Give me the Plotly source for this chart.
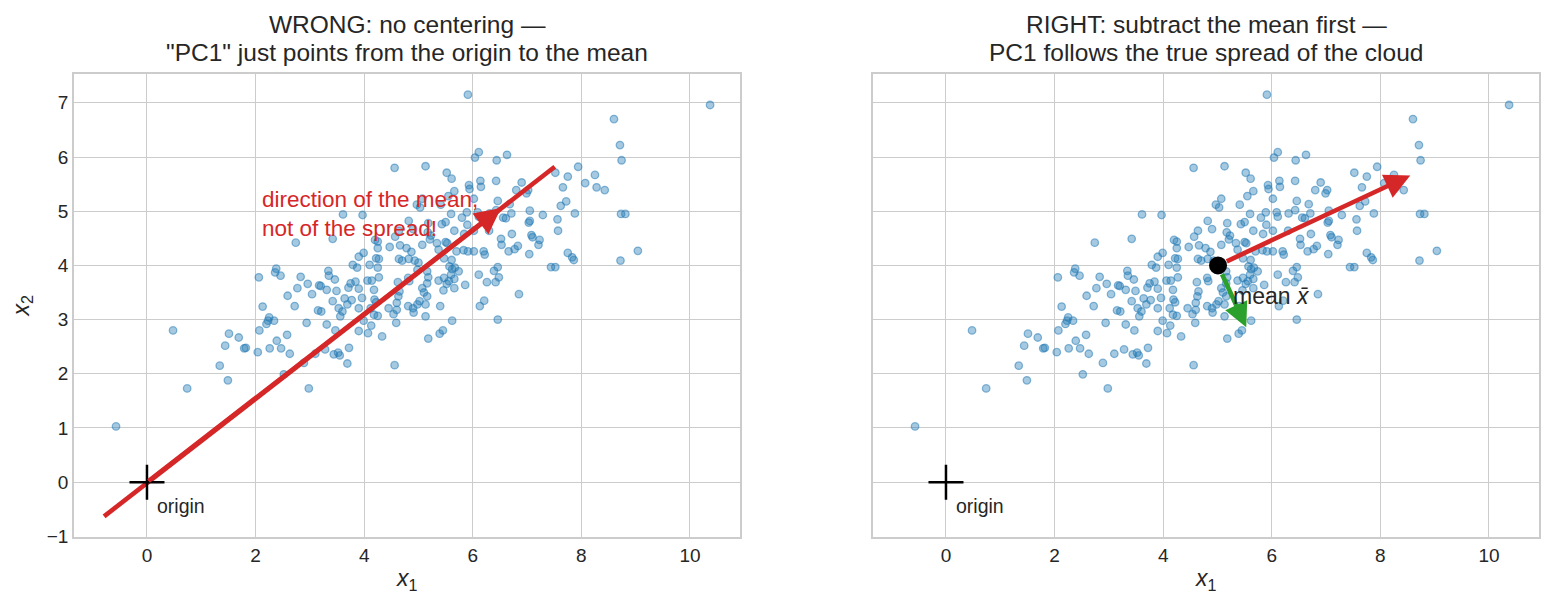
import plotly.graph_objects as go

# ---- data ----
X1 = [8.71, 8.74, 6.11, 6.04, 6.44, 6.63, 4.56, 5.13, 7.94, 7.52, 7.75, 8.25, 8.07, 8.28, 8.43,
      5.52, 5.61, 6.14, 6.15, 5.93, 5.94, 6.43, 5.66, 5.55, 6.90, 6.80, 7.02, 6.99, 7.66, 6.02,
      5.07, 4.97, 5.03, 5.41, 6.46, 6.68, 7.72, 7.62, 3.61, 3.97, 5.60, 5.80, 5.89, 6.09, 6.11,
      6.31, 6.43, 6.56, 6.61, 6.71, 7.05, 7.29, 7.88, 8.73, 8.81, 7.56, 7.05, 7.03, 7.57, 4.82,
      5.18, 5.43, 5.50, 4.90, 4.64, 4.57, 5.17, 5.23, 5.90, 6.02, 5.66, 5.84, 6.30, 6.72, 7.08,
      7.10, 7.23, 6.52, 6.53, 6.83, 6.77, 6.66, 7.04, 7.21, 2.74, 3.42, 4.20, 4.25, 4.25, 4.47,
      4.66, 4.78, 4.87, 5.07, 5.21, 5.34, 5.50, 5.53, 5.37, 5.70, 5.83, 5.91, 6.02, 6.20, 6.22,
      7.75, 7.83, 7.86, 9.04, 8.72, 3.99, 3.90, 3.79, 3.87, 4.10, 4.22, 4.27, 4.25, 4.64, 4.70,
      4.82, 4.93, 5.47, 5.61, 5.57, 5.62, 5.67, 5.74, 5.60, 5.66, 5.56, 5.52, 5.47, 5.37, 7.44,
      7.52, 6.46, 6.39, 6.48, 6.42, 6.26, 6.11, 5.86, 5.66, 5.46, 2.06, 2.38, 2.36, 2.46, 2.83,
      3.34, 3.35, 3.46, 3.75, 3.84, 3.71, 3.90, 4.06, 4.14, 4.27, 4.18, 4.62, 4.81, 4.83, 5.07,
      4.65, 2.77, 2.96, 3.17, 3.20, 3.04, 3.31, 3.49, 2.59, 3.42, 3.64, 3.77, 3.96, 4.19, 4.22,
      2.13, 2.72, 3.15, 3.21, 3.53, 3.60, 3.56, 3.69, 3.90, 4.12, 4.18, 4.25, 4.45, 4.54, 4.60,
      4.60, 4.81, 4.90, 4.98, 5.02, 5.13, 5.16, 4.91, 5.13, 5.40, 6.13, 6.21, 6.85, 6.46, 5.62,
      2.25, 2.23, 2.20, 2.34, 2.07, 1.82, 2.04, 2.26, 2.39, 2.47, 2.58, 2.63, 2.94, 3.31, 3.47,
      3.10, 3.28, 3.44, 3.52, 3.55, 3.72, 3.69, 2.89, 2.52, 2.98, 3.90, 4.07, 4.13, 3.99, 4.33,
      4.59, 4.56, 5.18, 5.39, 5.45, 4.63, 0.48, 0.74, -0.57, 1.34, 1.49, 1.44, 1.51, 1.69, 1.79,
      5.91, 10.37, 8.60, 5.16, 5.18, 5.16, 5.10, 5.00, 4.98]
X2 = [6.22, 5.94, 6.09, 5.99, 5.94, 6.04, 5.80, 5.83, 5.82, 5.71, 5.64, 5.67, 5.52, 5.44, 5.39,
      5.71, 5.60, 5.56, 5.45, 5.48, 5.41, 5.56, 5.37, 5.28, 5.53, 5.39, 5.39, 5.33, 5.44, 5.23,
      5.23, 5.12, 5.07, 5.12, 5.19, 5.13, 5.18, 5.10, 4.94, 4.93, 4.95, 4.88, 4.98, 4.98, 4.90,
      4.96, 5.02, 4.88, 4.87, 4.96, 5.01, 4.93, 4.96, 4.95, 4.95, 4.85, 4.82, 4.79, 4.64, 4.82,
      4.78, 4.76, 4.80, 4.67, 4.64, 4.53, 4.61, 4.55, 4.75, 4.64, 4.64, 4.58, 4.64, 4.58, 4.56,
      4.52, 4.47, 4.49, 4.38, 4.36, 4.30, 4.26, 4.21, 4.38, 4.42, 4.49, 4.47, 4.44, 4.32, 4.34,
      4.37, 4.32, 4.25, 4.38, 4.48, 4.41, 4.43, 4.41, 4.29, 4.26, 4.28, 4.26, 4.26, 4.26, 4.20,
      4.23, 4.15, 4.10, 4.27, 4.09, 4.23, 4.16, 4.01, 3.96, 4.01, 4.13, 4.12, 3.96, 4.12, 4.09,
      4.12, 4.09, 4.13, 4.10, 3.98, 3.93, 3.96, 3.89, 3.83, 3.75, 3.71, 3.66, 3.77, 3.72, 3.97,
      3.97, 3.97, 3.90, 3.78, 3.69, 3.69, 3.83, 3.64, 3.58, 3.54, 3.78, 3.94, 3.87, 3.81, 3.79,
      3.90, 3.81, 3.74, 3.67, 3.70, 3.59, 3.57, 3.72, 3.72, 3.78, 3.55, 3.69, 3.77, 3.71, 3.58,
      3.52, 3.58, 3.66, 3.63, 3.62, 3.47, 3.55, 3.53, 3.44, 3.34, 3.39, 3.36, 3.40, 3.37, 3.32,
      3.24, 3.25, 3.17, 3.15, 3.21, 3.15, 3.06, 3.28, 3.21, 3.21, 3.09, 3.07, 3.21, 3.10, 3.18,
      3.31, 3.25, 3.21, 3.28, 3.34, 3.28, 3.43, 3.13, 3.06, 3.25, 3.25, 3.35, 3.47, 3.00, 2.98,
      3.04, 2.98, 2.92, 2.98, 2.80, 2.48, 2.40, 2.47, 2.61, 2.47, 2.72, 2.37, 2.94, 2.91, 2.80,
      2.37, 2.45, 2.36, 2.39, 2.34, 2.48, 2.19, 2.20, 1.99, 1.73, 2.79, 2.75, 2.89, 2.98, 2.69,
      2.94, 2.16, 2.65, 2.74, 2.80, 3.43, 2.80, 1.73, 1.03, 2.15, 1.88, 2.52, 2.74, 2.67, 2.47,
      7.15, 6.96, 6.70, 3.89, 3.78, 3.67, 3.50, 4.05, 3.92]

ORIGIN = [0.0, 0.0]
MEAN = [5.01, 4.00]                 # sample mean (black dot)
PC1_TIP = [8.55, 5.66]              # centred PC1 arrow tip
PC2_TIP = [5.53, 2.86]              # centred PC2 arrow tip
UNC_LINE_X = [-0.79, 7.51]          # uncentred "PC1" line
UNC_LINE_Y = [-0.63, 5.82]
UNC_ARROW_TIP = [6.52, 5.06]

XTICKS = [0, 2, 4, 6, 8, 10]
YTICKS = [-1, 0, 1, 2, 3, 4, 5, 6, 7]
XRANGE = [-1.344, 10.921]
YRANGE = [-1.013, 7.534]

TITLES = [["WRONG: no centering \u2014", "\"PC1\" just points from the origin to the mean"],
          ["RIGHT: subtract the mean first \u2014", "PC1 follows the true spread of the cloud"]]

BLUE_FILL = "rgba(31,119,180,0.40)"
BLUE_EDGE = "rgba(31,119,180,0.50)"
RED = "#d62728"
GREEN = "#2ca02c"
TXT = "#262626"
GRID = "#cccccc"
FONT = "Liberation Sans"

W, H = 1553, 607
HE = 598.0   # effective rendered height used for vertical placement


def fy(p):
    """paper fraction for a pixel row p measured from the top"""
    return 1 - p / HE


fig = go.Figure()

for xa, ya in [("x", "y"), ("x2", "y2")]:
    fig.add_trace(go.Scatter(x=X1, y=X2, mode="markers", xaxis=xa, yaxis=ya,
                             marker=dict(size=7.5, color=BLUE_FILL,
                                         line=dict(color=BLUE_EDGE, width=1.3)),
                             hoverinfo="skip", showlegend=False))

# uncentred line (left)
fig.add_trace(go.Scatter(x=UNC_LINE_X, y=UNC_LINE_Y, mode="lines", xaxis="x", yaxis="y",
                         line=dict(color=RED, width=4.6), showlegend=False, hoverinfo="skip"))

# origin crosses
for xa, ya in [("x", "y"), ("x2", "y2")]:
    fig.add_trace(go.Scatter(x=[ORIGIN[0]], y=[ORIGIN[1]], mode="markers", xaxis=xa, yaxis=ya,
                             marker=dict(symbol="cross-thin", size=25,
                                         line=dict(color="black", width=2.5)),
                             showlegend=False, hoverinfo="skip"))

# mean dot (right)
fig.add_trace(go.Scatter(x=[MEAN[0]], y=[MEAN[1]], mode="markers", xaxis="x2", yaxis="y2",
                         marker=dict(size=18, color="black"), showlegend=False, hoverinfo="skip"))

annotations = []
# arrows
annotations.append(dict(x=UNC_ARROW_TIP[0], y=UNC_ARROW_TIP[1], ax=ORIGIN[0], ay=ORIGIN[1],
                        xref="x", yref="y", axref="x", ayref="y", text="", showarrow=True,
                        arrowhead=2, arrowsize=1.13, arrowwidth=4.6, arrowcolor=RED, standoff=0))
annotations.append(dict(x=PC1_TIP[0], y=PC1_TIP[1], ax=MEAN[0], ay=MEAN[1],
                        xref="x2", yref="y2", axref="x2", ayref="y2", text="", showarrow=True,
                        arrowhead=2, arrowsize=1.1, arrowwidth=4.6, arrowcolor=RED,
                        standoff=0, startstandoff=8))
annotations.append(dict(x=PC2_TIP[0], y=PC2_TIP[1], ax=MEAN[0], ay=MEAN[1],
                        xref="x2", yref="y2", axref="x2", ayref="y2", text="", showarrow=True,
                        arrowhead=2, arrowsize=1.05, arrowwidth=4.6, arrowcolor=GREEN,
                        standoff=0, startstandoff=8))

# text labels in data coords
annotations.append(dict(x=2.08, y=4.95, xref="x", yref="y", xanchor="left", yanchor="middle",
                        align="left", showarrow=False,
                        text="direction of the mean,<br>not of the spread!",
                        font=dict(family=FONT, size=22.5, color=RED)))
for xr, yr in [("x", "y"), ("x2", "y2")]:
    annotations.append(dict(x=0.14, y=-0.44, xref=xr, yref=yr, xanchor="left", yanchor="middle",
                            showarrow=False, text="origin",
                            font=dict(family=FONT, size=19.5, color=TXT)))
annotations.append(dict(x=5.25, y=3.43, xref="x2", yref="y2", xanchor="left", yanchor="middle",
                        showarrow=False, text="mean <i>x\u0304</i>",
                        font=dict(family=FONT, size=23, color=TXT)))

# titles and axis labels (paper coords)
centers = [(74 + 740) / 2 / W, (873 + 1539) / 2 / W]
for c, (l1, l2) in zip(centers, TITLES):
    annotations.append(dict(x=c, y=fy(25), xref="paper", yref="paper", xanchor="center",
                            yanchor="middle", showarrow=False, text=l1,
                            font=dict(family=FONT, size=24.5, color=TXT)))
    annotations.append(dict(x=c, y=fy(53), xref="paper", yref="paper", xanchor="center",
                            yanchor="middle", showarrow=False, text=l2,
                            font=dict(family=FONT, size=24.5, color=TXT)))
    annotations.append(dict(x=c, y=fy(580), xref="paper", yref="paper", xanchor="center",
                            yanchor="middle", showarrow=False, text="<i>x</i><sub>1</sub>",
                            font=dict(family=FONT, size=23, color=TXT)))
annotations.append(dict(x=22 / W, y=fy(306), xref="paper", yref="paper", xanchor="center",
                        yanchor="middle", showarrow=False, text="<i>x</i><sub>2</sub>",
                        textangle=-90, font=dict(family=FONT, size=23, color=TXT)))

ax_common = dict(range=XRANGE, tickvals=XTICKS, showgrid=True, gridcolor=GRID, gridwidth=1.3,
                 zeroline=False, showline=True, mirror=True, linecolor=GRID, linewidth=1.5,
                 ticks="", tickfont=dict(family=FONT, size=19, color=TXT))
ay_common = dict(range=YRANGE, tickvals=YTICKS, showgrid=True, gridcolor=GRID, gridwidth=1.3,
                 zeroline=False, showline=True, mirror=True, linecolor=GRID, linewidth=1.5,
                 ticks="", tickfont=dict(family=FONT, size=19, color=TXT))

ydom = [fy(538), fy(74)]
fig.update_layout(
    width=W, height=H, margin=dict(l=0, r=0, t=0, b=0),
    paper_bgcolor="white", plot_bgcolor="white", showlegend=False,
    xaxis=dict(domain=[74 / W, 740 / W], anchor="y", **ax_common),
    yaxis=dict(domain=ydom, anchor="x", **ay_common),
    xaxis2=dict(domain=[873 / W, 1539 / W], anchor="y2", **ax_common),
    yaxis2=dict(domain=ydom, anchor="x2", showticklabels=False, **ay_common),
    annotations=annotations,
    font=dict(family=FONT, color=TXT),
)

fig.write_html("out.html")
